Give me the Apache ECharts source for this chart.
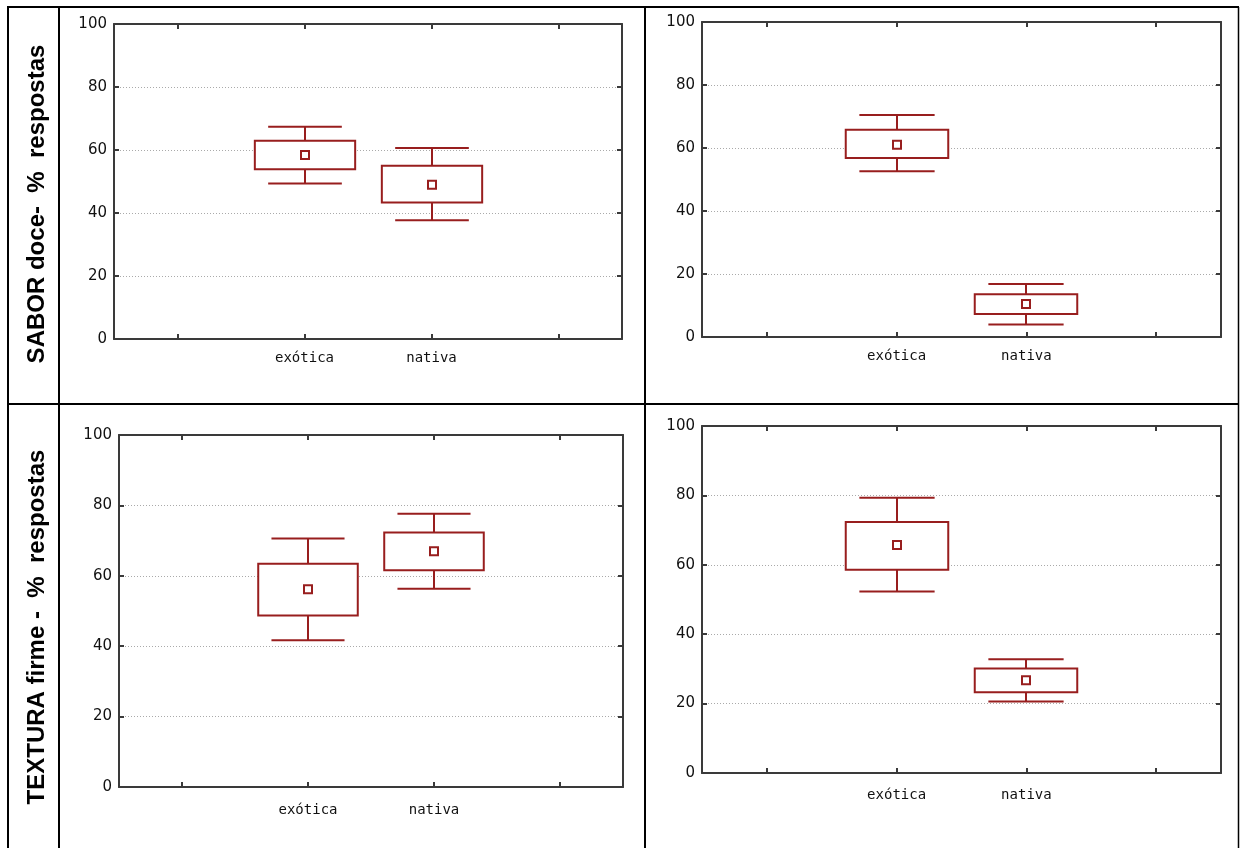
<!DOCTYPE html>
<html>
<head>
<meta charset="utf-8">
<script src="https://cdn.jsdelivr.net/npm/echarts@6/dist/echarts.min.js"></script>
<style>
html,body{margin:0;padding:0;background:#fff;}
#chart{width:1242px;height:848px;}
</style>
</head>
<body>
<div id="chart"></div>
<script>
// ---- data ----
const categories = ['', 'exótica', 'nativa', ''];
const yTickLabels = [0, 20, 40, 60, 80, 100];
const rowLabels = ['SABOR doce-  %  respostas', 'TEXTURA firme -  %  respostas'];
// each: [lower whisker, box low, mean, box high, upper whisker]
const saborLeftExotica  = [49.4, 53.9, 58.4, 62.9, 67.4];
const saborLeftNativa   = [37.7, 43.3, 49.0, 55.0, 60.6];
const saborRightExotica = [52.6, 56.8, 61.0, 65.8, 70.5];
const saborRightNativa  = [4.0, 7.3, 10.5, 13.6, 16.8];
const texturaLeftExotica  = [41.7, 48.7, 56.2, 63.4, 70.6];
const texturaLeftNativa   = [56.3, 61.6, 67.0, 72.3, 77.6];
const texturaRightExotica = [52.3, 58.6, 65.7, 72.3, 79.3];
const texturaRightNativa  = [20.6, 23.3, 26.7, 30.1, 32.8];

const panels = [
  {exo: saborLeftExotica, nat: saborLeftNativa, left:114, top:24, width:508, height:315, lm:12},
  {exo: saborRightExotica, nat: saborRightNativa, left:702, top:22, width:519, height:315, lm:12},
  {exo: texturaLeftExotica, nat: texturaLeftNativa, left:119, top:435, width:504, height:352, lm:16},
  {exo: texturaRightExotica, nat: texturaRightNativa, left:702, top:426, width:519, height:347, lm:15}
];

const RED = '#981e1e';
const AXIS = '#3a3a3a';

function renderBox(params, api) {
  const x = api.value(0);
  const band = api.size([1, 0])[0];
  const lo = api.coord([x, api.value(1)]);
  const q1 = api.coord([x, api.value(2)]);
  const mean = api.coord([x, api.value(3)]);
  const q3 = api.coord([x, api.value(4)]);
  const hi = api.coord([x, api.value(5)]);
  const cx = Math.round(lo[0]);
  const bw = band * 0.79, cw = band * 0.58;
  const ls = {stroke: RED, lineWidth: 2, fill: null};
  return {
    type: 'group',
    children: [
      {type: 'rect', shape: {x: cx - bw / 2, y: q3[1], width: bw, height: q1[1] - q3[1]}, style: {stroke: RED, lineWidth: 2, fill: '#fff'}},
      {type: 'line', shape: {x1: cx, y1: q3[1], x2: cx, y2: hi[1]}, style: ls},
      {type: 'line', shape: {x1: cx, y1: q1[1], x2: cx, y2: lo[1]}, style: ls},
      {type: 'line', shape: {x1: cx - cw / 2, y1: hi[1], x2: cx + cw / 2, y2: hi[1]}, style: ls},
      {type: 'line', shape: {x1: cx - cw / 2, y1: lo[1], x2: cx + cw / 2, y2: lo[1]}, style: ls},
      {type: 'rect', shape: {x: cx - 4, y: mean[1] - 4, width: 8, height: 8}, style: {stroke: RED, lineWidth: 2, fill: '#fff'}}
    ]
  };
}

const tick = {show: true, inside: true, alignWithLabel: true, interval: 0, length: 5, lineStyle: {color: AXIS, width: 2}};
const grid = [], xAxis = [], yAxis = [], series = [];
panels.forEach((p, i) => {
  grid.push({left: p.left, top: p.top, width: p.width, height: p.height});
  xAxis.push({
    type: 'category', gridIndex: i, data: categories, position: 'bottom', boundaryGap: true,
    axisLine: {show: true, onZero: false, lineStyle: {color: AXIS, width: 2}},
    axisTick: tick,
    axisLabel: {show: true, interval: 0, margin: p.lm, color: '#111', fontFamily: 'DejaVu Sans Mono', fontSize: 14},
    splitLine: {show: false}
  });
  xAxis.push({
    type: 'category', gridIndex: i, data: categories, position: 'top', boundaryGap: true,
    axisLine: {show: true, onZero: false, lineStyle: {color: AXIS, width: 2}},
    axisTick: tick,
    axisLabel: {show: false}, splitLine: {show: false}
  });
  yAxis.push({
    type: 'value', gridIndex: i, min: yTickLabels[0], max: yTickLabels[yTickLabels.length - 1], interval: 20, position: 'left',
    axisLine: {show: true, onZero: false, lineStyle: {color: AXIS, width: 2}},
    axisTick: {show: true, inside: true, length: 5, lineStyle: {color: AXIS, width: 2}},
    axisLabel: {margin: 7, color: '#111', fontFamily: 'DejaVu Sans', fontSize: 15},
    splitLine: {show: true, lineStyle: {color: '#aaa', width: 1, type: [1, 2]}}
  });
  yAxis.push({
    type: 'value', gridIndex: i, min: yTickLabels[0], max: yTickLabels[yTickLabels.length - 1], interval: 20, position: 'right',
    axisLine: {show: true, onZero: false, lineStyle: {color: AXIS, width: 2}},
    axisTick: {show: true, inside: true, length: 5, lineStyle: {color: AXIS, width: 2}},
    axisLabel: {show: false}, splitLine: {show: false}
  });
  series.push({
    type: 'custom', xAxisIndex: i * 2, yAxisIndex: i * 2,
    renderItem: renderBox,
    encode: {x: 0, y: [1, 2, 3, 4, 5]},
    data: [[1].concat(p.exo), [2].concat(p.nat)],
    clip: false, silent: true
  });
});

const B = '#000';
const graphic = [
  {type: 'line', shape: {x1: 7, y1: 7, x2: 1239, y2: 7}, style: {stroke: B, lineWidth: 2}},
  {type: 'line', shape: {x1: 8, y1: 7, x2: 8, y2: 848}, style: {stroke: B, lineWidth: 2}},
  {type: 'line', shape: {x1: 59, y1: 7, x2: 59, y2: 848}, style: {stroke: B, lineWidth: 2}},
  {type: 'line', shape: {x1: 645, y1: 7, x2: 645, y2: 848}, style: {stroke: B, lineWidth: 2}},
  {type: 'line', shape: {x1: 7, y1: 404, x2: 1239, y2: 404}, style: {stroke: B, lineWidth: 2}},
  {type: 'line', shape: {x1: 1238.5, y1: 7, x2: 1238.5, y2: 848}, style: {stroke: B, lineWidth: 1.5}},
  {type: 'text', x: 37, y: 204, rotation: Math.PI / 2,
   style: {text: rowLabels[0], font: 'bold 24px "Liberation Sans", Arial, sans-serif', fill: '#000', textAlign: 'center', textVerticalAlign: 'middle'}},
  {type: 'text', x: 37, y: 627, rotation: Math.PI / 2,
   style: {text: rowLabels[1], font: 'bold 24px "Liberation Sans", Arial, sans-serif', fill: '#000', textAlign: 'center', textVerticalAlign: 'middle'}}
];

const chart = echarts.init(document.getElementById('chart'), null, {renderer: 'canvas'});
chart.setOption({
  backgroundColor: '#fff',
  animation: false,
  grid, xAxis, yAxis, series, graphic
});
</script>
</body>
</html>
